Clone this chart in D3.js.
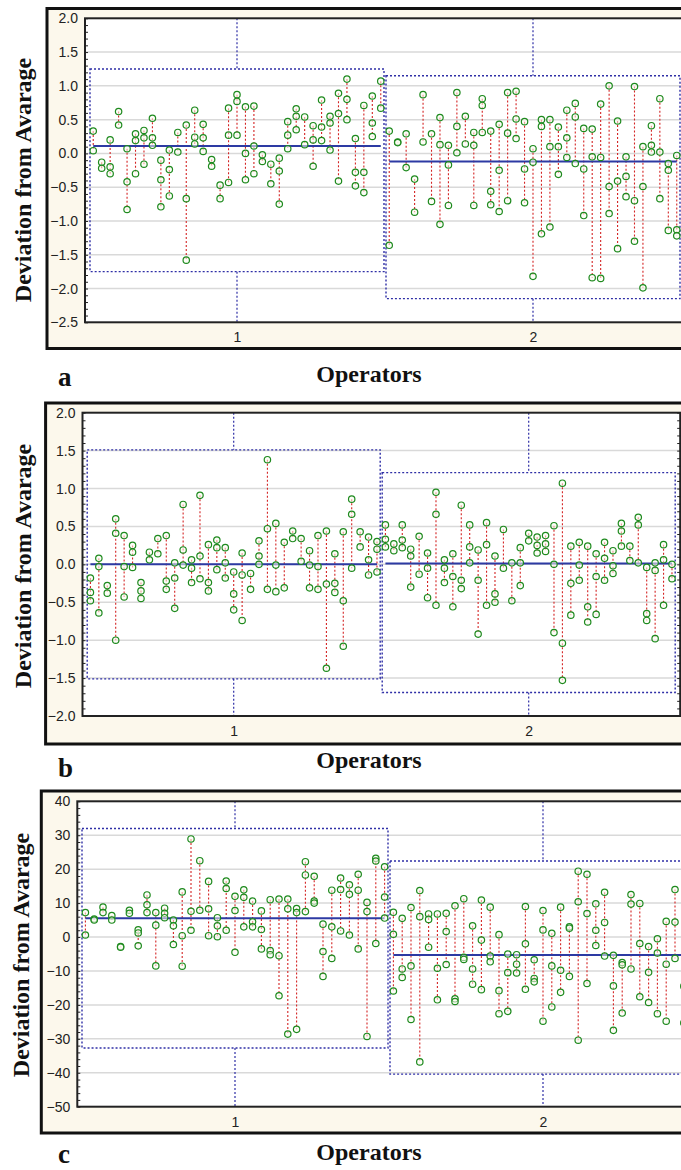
<!DOCTYPE html>
<html>
<head>
<meta charset="utf-8">
<script src="https://cdn.jsdelivr.net/npm/d3@7"></script>
<style>
  body { margin: 0; background: #fff; }
  svg { display: block; }
</style>
</head>
<body>
<div id="chart"></div>
<script>
// operators on the x axis
var operators = [1, 2];
var partsPerOperator = 35;

// panel a
var ticksA = [-2.5, -2.0, -1.5, -1.0, -0.5, 0.0, 0.5, 1.0, 1.5, 2.0];
var upperA = [1.25, 1.15];
var lowerA = [-1.75, -2.15];
var meanA = [0.11, -0.12];
var partsA1 = [
  [0.33, 0.04], [-0.13, -0.22], [0.2, -0.2, -0.3], [0.62, 0.42], [0.07, -0.42, -0.83],
  [0.29, 0.19, -0.3], [0.34, 0.23, -0.16], [0.52, 0.23, 0.12], [-0.1, -0.39, -0.79], [0.05, -0.24, -0.63],
  [0.31, 0.02], [0.42, -0.67, -1.58], [0.64, 0.24, 0.14], [0.43, 0.23, 0.03], [-0.09, -0.19],
  [-0.47, -0.67], [0.67, 0.27, -0.43], [0.87, 0.77, 0.27], [0.69, 0.0, -0.39], [0.7, 0.11, -0.3],
  [-0.02, -0.12], [-0.16, -0.45], [-0.07, -0.26, -0.75], [0.47, 0.27, 0.07], [0.66, 0.55, 0.35],
  [0.54, 0.13], [0.41, 0.2, -0.19], [0.79, 0.39, 0.19], [0.55, 0.45, 0.05], [0.89, 0.59, -0.41],
  [1.1, 0.8, 0.5], [0.22, -0.28, -0.48], [0.71, -0.28, -0.58], [0.85, 0.45, 0.25], [1.07, 0.67]
];
var partsA2 = [
  [0.33, -1.36], [0.17, 0.16], [0.29, -0.21], [-0.38, -0.87], [0.87, 0.17],
  [0.29, -0.71], [0.53, 0.13, -1.05], [0.12, -0.17, -0.77], [0.9, 0.4, 0.01], [0.55, 0.14],
  [0.31, 0.12, -0.77], [0.81, 0.71, 0.31], [0.33, -0.56, -0.76], [0.43, -0.25, -0.86], [0.9, 0.3, -0.7],
  [0.92, 0.51, 0.22], [0.47, -0.23, -0.73], [0.07, -0.13, -1.82], [0.5, 0.4, -1.19], [0.5, 0.1, -1.09],
  [0.39, 0.1, -0.31], [0.64, 0.23, -0.06], [0.74, 0.54, -0.15], [0.37, -0.23, -0.92], [0.36, -0.05, -1.84],
  [0.73, -0.06, -1.85], [1.0, -0.49, -0.89], [0.48, -0.41, -1.41], [-0.05, -0.34, -0.64], [0.99, -0.7, -1.3],
  [0.1, -0.49, -1.99], [0.41, 0.12, 0.02], [0.81, 0.02, -0.67], [-0.15, -0.25, -1.14], [-0.03, -1.13, -1.22]
];

// panel b
var ticksB = [-2.0, -1.5, -1.0, -0.5, 0.0, 0.5, 1.0, 1.5, 2.0];
var upperB = [1.51, 1.21];
var lowerB = [-1.51, -1.69];
var meanB = [0.0, 0.01];
var partsB1 = [
  [-0.18, -0.37, -0.48], [0.08, -0.03, -0.64], [-0.28, -0.38], [0.6, 0.41, -1.0], [0.38, -0.03, -0.43],
  [0.25, 0.16, -0.04], [-0.24, -0.35, -0.45], [0.16, 0.06], [0.34, 0.14], [0.38, -0.22, -0.33],
  [0.02, -0.18, -0.58], [0.79, 0.19, -0.01], [0.06, -0.05, -0.24], [0.91, 0.11, -0.19], [0.26, -0.24, -0.35],
  [0.32, 0.22, -0.07], [0.22, 0.02, -0.18], [-0.1, -0.39, -0.6], [0.15, -0.14, -0.74], [-0.12, -0.33],
  [0.31, 0.11, 0.0], [1.38, 0.47, -0.33], [0.54, -0.01, -0.36], [0.29, -0.31], [0.44, 0.34],
  [0.34, 0.04], [0.18, -0.01, -0.31], [0.38, -0.03, -0.33], [0.44, -0.26, -1.37], [0.14, -0.25, -0.37],
  [0.43, -0.48, -1.08], [0.86, 0.66, -0.05], [0.43, 0.23], [0.36, 0.06, -0.14], [0.3, 0.2, -0.1]
];
var partsB2 = [
  [0.52, 0.33, 0.23], [0.27, 0.18], [0.52, 0.32, 0.22], [0.2, 0.11, -0.3], [0.37, -0.13],
  [0.15, -0.05, -0.44], [0.95, 0.66, -0.54], [0.06, -0.05, -0.24], [0.14, -0.16, -0.56], [0.78, -0.21, -0.32],
  [0.52, 0.23, 0.02], [0.19, -0.21, -0.92], [0.55, 0.26, -0.54], [0.11, -0.39, -0.5], [0.46, -0.05],
  [0.02, -0.48], [0.22, 0.02, -0.28], [0.41, 0.31], [0.36, 0.25, 0.15], [0.38, 0.27, 0.17],
  [0.51, 0.0, -0.9], [1.07, -1.04, -1.53], [0.24, -0.25, -0.67], [0.29, -0.01, -0.21], [0.24, -0.56, -0.76],
  [0.14, -0.16, -0.66], [0.29, 0.08, -0.21], [0.18, -0.02, -0.12], [0.54, 0.44, 0.24], [0.24, 0.05],
  [0.62, 0.52, 0.02], [-0.04, -0.65, -0.74], [0.02, -0.08, -0.98], [0.26, 0.06, -0.54], [0.0, -0.19]
];

// panel c
var ticksC = [-50, -40, -30, -20, -10, 0, 10, 20, 30, 40];
var upperC = [32.0, 22.4];
var lowerC = [-32.7, -40.4];
var meanC = [5.5, -5.3];
var partsC1 = [
  [7.2, 0.6], [5.3, 5.0], [8.8, 7.2], [6.3, 5.0], [-2.8, -3.0],
  [7.9, 7.0], [2.1, 1.2, -2.6], [12.4, 9.5, 7.2], [7.2, 3.5, -8.5], [8.5, 7.0, 5.7],
  [5.0, 3.3, -2.2], [13.3, 0.4, -8.6], [28.9, 7.6, 2.0], [22.5, 7.9], [16.4, 8.3, 0.4],
  [5.7, 3.3, 0.1], [16.5, 14.3, 2.0], [12.0, 7.8, -4.5], [13.9, 11.7, 3.0], [10.6, 4.5, 3.0],
  [7.7, 2.2, -3.5], [11.0, -4.0, -5.2], [11.2, -5.5, -17.3], [11.2, 8.3, -28.6], [8.4, 7.2, -27.2],
  [22.2, 18.3, 7.5], [17.9, 10.6, 10.0], [3.8, -4.3, -11.6], [13.8, 3.0, -6.3], [17.4, 14.0, 1.8],
  [15.4, 12.6, 0.6], [18.5, 13.8, -3.5], [10.2, 7.5, -29.3], [23.2, 22.4, -1.9], [20.7, 11.8, 5.6]
];
var partsC2 = [
  [7.3, 0.8, -15.9], [5.5, -9.4, -11.9], [8.7, -8.5, -24.3], [13.7, 6.0, -36.8], [6.8, 5.2, -3.0],
  [6.8, -9.2, -18.5], [7.0, 1.6, -8.1], [9.2, -18.2, -19.0], [11.3, -6.0, -6.6], [3.3, -9.4, -13.9],
  [10.9, -0.9, -15.5], [8.8, -5.6, -7.3], [0.7, -15.8, -22.6], [-5.0, -10.5, -21.9], [-5.2, -8.0, -10.6],
  [9.0, -2.0, -15.4], [-6.7, -12.2, -13.2], [7.8, 2.1, -24.8], [1.1, -8.5, -20.6], [8.8, -9.8, -16.3],
  [3.0, 2.6, -11.6], [19.4, 10.4, -30.4], [18.5, 6.9, -13.7], [9.8, 2.0, -2.5], [13.2, 4.3, -5.6],
  [-5.4, -14.4, -27.5], [-7.5, -8.2, -22.4], [12.5, 9.7, -9.4], [9.9, -1.9, -17.6], [-2.8, -10.4, -19.3],
  [-0.5, -4.7, -22.6], [4.6, -8.0, -24.8], [14.0, 4.4, -6.3], [-14.5, -25.3]
];

var svgWidth = 681;
var svgHeight = 1170;

var svg = d3.select("#chart")
  .append("svg")
  .attr("width", svgWidth)
  .attr("height", svgHeight);

var blue = "#2f2fa6";
var serif = "'Liberation Serif', 'Times New Roman', serif";
var sans = "'Liberation Sans', Arial, sans-serif";

function drawPanel(p) {
  var g = svg.append("g");

  var x = d3.scaleLinear().domain([0.5, 2.5]).range(p.xRange);
  var y = d3.scaleLinear().domain(d3.extent(p.ticks)).range([p.plotBottom, p.plotTop]);
  var plotRight = x(2.5) + 4;

  // cream frame
  g.append("rect")
    .attr("x", p.frameX)
    .attr("y", p.frameTop)
    .attr("width", 720 - p.frameX)
    .attr("height", p.frameBottom - p.frameTop)
    .attr("fill", "#fcf8ec")
    .attr("stroke", "#111")
    .attr("stroke-width", 3);

  // white plot area
  g.append("rect")
    .attr("x", p.plotLeft)
    .attr("y", p.plotTop)
    .attr("width", plotRight - p.plotLeft)
    .attr("height", p.plotBottom - p.plotTop)
    .attr("fill", "#fff");

  // gridlines
  g.selectAll(".grid")
    .data(p.ticks.slice(1, -1))
    .enter()
    .append("line")
    .attr("x1", p.plotLeft)
    .attr("x2", plotRight)
    .attr("y1", d => y(d))
    .attr("y2", d => y(d))
    .attr("stroke", "#d9d9d9")
    .attr("stroke-width", 1.5);

  // boxes and whisker lines for each operator
  operators.forEach(function (op, k) {
    var x0 = x(op - 0.5) + 1;
    var x1 = x(op + 0.5) - 1;
    var yt = y(p.upper[k]);
    var yb = y(p.lower[k]);
    g.append("rect")
      .attr("x", x0)
      .attr("y", yt)
      .attr("width", x1 - x0)
      .attr("height", yb - yt)
      .attr("fill", "none")
      .attr("stroke", blue)
      .attr("stroke-width", 1.4)
      .attr("stroke-dasharray", "2,2");
    g.append("line")
      .attr("x1", x(op)).attr("x2", x(op))
      .attr("y1", p.plotTop).attr("y2", yt)
      .attr("stroke", blue).attr("stroke-width", 1.2)
      .attr("stroke-dasharray", "2,2");
    g.append("line")
      .attr("x1", x(op)).attr("x2", x(op))
      .attr("y1", yb).attr("y2", p.plotBottom)
      .attr("stroke", blue).attr("stroke-width", 1.2)
      .attr("stroke-dasharray", "2,2");
  });

  // red range lines for each part
  operators.forEach(function (op, k) {
    var parts = p.parts[k];
    var px = (d, i) => x(op - 0.5 + (i + 0.5) / partsPerOperator);
    g.selectAll(null)
      .data(parts)
      .enter()
      .append("line")
      .attr("x1", px)
      .attr("x2", px)
      .attr("y1", d => y(d3.max(d)))
      .attr("y2", d => y(d3.min(d)))
      .attr("stroke", "#d42424")
      .attr("stroke-width", 1.1)
      .attr("stroke-dasharray", "2,2");
  });

  // mean lines
  operators.forEach(function (op, k) {
    g.append("line")
      .attr("x1", x(op - 0.5 + 0.5 / partsPerOperator))
      .attr("x2", x(op + 0.5 - 0.5 / partsPerOperator))
      .attr("y1", y(p.mean[k]))
      .attr("y2", y(p.mean[k]))
      .attr("stroke", "#2d3aa3")
      .attr("stroke-width", 2);
  });

  // measurement markers
  operators.forEach(function (op, k) {
    var pts = [];
    p.parts[k].forEach(function (d, i) {
      d.forEach(function (v) {
        pts.push({ i: i, v: v });
      });
    });
    g.selectAll(null)
      .data(pts)
      .enter()
      .append("circle")
      .attr("cx", d => x(op - 0.5 + (d.i + 0.5) / partsPerOperator))
      .attr("cy", d => y(d.v))
      .attr("r", 3.2)
      .attr("fill", "rgba(250,252,240,0.55)")
      .attr("stroke", "#1e8a1e")
      .attr("stroke-width", 1.2);
  });

  // plot border
  g.append("rect")
    .attr("x", p.plotLeft)
    .attr("y", p.plotTop)
    .attr("width", plotRight - p.plotLeft)
    .attr("height", p.plotBottom - p.plotTop)
    .attr("fill", "none")
    .attr("stroke", "#222")
    .attr("stroke-width", 2);

  // y axis labels
  var yAxis = d3.axisLeft(y)
    .tickValues(p.ticks)
    .tickSize(0)
    .tickPadding(7)
    .tickFormat(p.format);
  var yAxisG = g.append("g")
    .attr("transform", `translate(${p.plotLeft}, 0)`)
    .call(yAxis);
  yAxisG.select(".domain").remove();
  yAxisG.selectAll("text")
    .attr("font-family", sans)
    .attr("font-size", "14px")
    .attr("fill", "#222");

  // minor ticks inside the left and right axes
  var minor = d3.range(d3.min(p.ticks), d3.max(p.ticks) + p.minorStep / 2, p.minorStep);
  var leftTicks = d3.axisRight(y).tickValues(minor).tickSize(3).tickFormat("");
  var leftG = g.append("g")
    .attr("transform", `translate(${p.plotLeft}, 0)`)
    .call(leftTicks);
  leftG.select(".domain").remove();
  leftG.selectAll("line").attr("stroke", "#222");
  var rightTicks = d3.axisLeft(y).tickValues(minor).tickSize(3).tickFormat("");
  var rightG = g.append("g")
    .attr("transform", `translate(${plotRight}, 0)`)
    .call(rightTicks);
  rightG.select(".domain").remove();
  rightG.selectAll("line").attr("stroke", "#222");

  // x axis labels
  var xAxis = d3.axisBottom(x)
    .tickValues(operators)
    .tickSize(0)
    .tickPadding(10)
    .tickFormat(d3.format("d"));
  var xAxisG = g.append("g")
    .attr("transform", `translate(0, ${p.plotBottom})`)
    .call(xAxis);
  xAxisG.select(".domain").remove();
  xAxisG.selectAll("text")
    .attr("font-family", sans)
    .attr("font-size", "14px")
    .attr("fill", "#222");

  // y title
  g.append("text")
    .attr("transform", `translate(${p.titleX}, ${p.titleY}) rotate(-90)`)
    .attr("text-anchor", "middle")
    .attr("font-family", serif)
    .attr("font-weight", "bold")
    .attr("font-size", "24px")
    .attr("fill", "#111")
    .text("Deviation from Avarage");

  // x title
  g.append("text")
    .attr("x", 369)
    .attr("y", p.opY)
    .attr("text-anchor", "middle")
    .attr("font-family", serif)
    .attr("font-weight", "bold")
    .attr("font-size", "24px")
    .attr("fill", "#111")
    .text("Operators");

  // panel letter
  g.append("text")
    .attr("x", 58)
    .attr("y", p.letterY)
    .attr("font-family", serif)
    .attr("font-weight", "bold")
    .attr("font-size", "27px")
    .attr("fill", "#111")
    .text(p.letter);
}

drawPanel({
  ticks: ticksA, upper: upperA, lower: lowerA, mean: meanA, parts: [partsA1, partsA2],
  format: d3.format(".1f"), minorStep: 0.1, letter: "a",
  frameX: 47, frameTop: 8.5, frameBottom: 348.5,
  plotLeft: 85, plotTop: 18.3, plotBottom: 322.3, xRange: [89, 681],
  titleX: 31, titleY: 180, opY: 382, letterY: 386
});

drawPanel({
  ticks: ticksB, upper: upperB, lower: lowerB, mean: meanB, parts: [partsB1, partsB2],
  format: d3.format(".1f"), minorStep: 0.1, letter: "b",
  frameX: 45.6, frameTop: 403, frameBottom: 744,
  plotLeft: 82.5, plotTop: 412.7, plotBottom: 716, xRange: [86.2, 676.2],
  titleX: 31, titleY: 566, opY: 768, letterY: 777
});

drawPanel({
  ticks: ticksC, upper: upperC, lower: lowerC, mean: meanC, parts: [partsC1, partsC2],
  format: d3.format("d"), minorStep: 2, letter: "c",
  frameX: 41.3, frameTop: 791, frameBottom: 1133,
  plotLeft: 77.3, plotTop: 801.3, plotBottom: 1106.7, xRange: [81, 697],
  titleX: 29, titleY: 955, opY: 1160, letterY: 1163
});
</script>
</body>
</html>
